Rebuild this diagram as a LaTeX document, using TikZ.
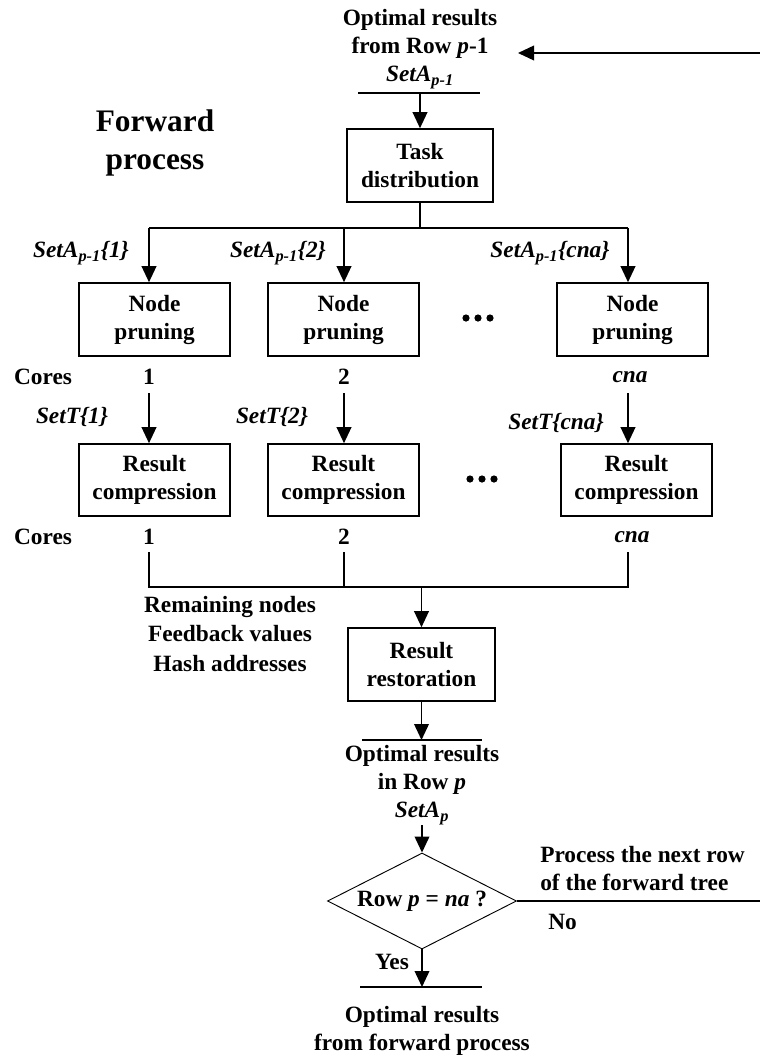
\documentclass[tikz,border=0pt]{standalone}
\usepackage{fontspec}
\setmainfont{Liberation Serif}
\usetikzlibrary{arrows.meta,shapes.geometric}
\tikzset{
  txt/.style={font=\fontsize{17.5}{21}\selectfont\bfseries, inner sep=0pt, align=center},
  bigtxt/.style={font=\fontsize{23.5}{28}\selectfont\bfseries, inner sep=0pt, align=center},
  procbox/.style={draw, line width=1.2pt, txt, minimum width=113.25pt, minimum height=54.75pt},
  arr/.style={-{Triangle[length=12pt,width=11pt]}, line width=1.2pt},
  ln/.style={line width=1.2pt},
  decision/.style={diamond, draw, line width=0.7pt, txt, aspect=2, minimum width=141.75pt, minimum height=72pt},
}
\begin{document}
\begin{tikzpicture}[x=0.75pt,y=-0.75pt]
\useasboundingbox (0,0) rectangle (760,1057);

% top input
\node[txt] (top) at (420,49) {Optimal results\\from Row \textit{p}-1\\\textit{SetA\textsubscript{p-1}}};
\coordinate (tbL) at (358,93);
\coordinate (tbR) at (480,93);
\coordinate (tbM) at (420,93);
\draw[ln] (tbL) -- (tbR);

\node[bigtxt] (fwd) at (155,143) {Forward\\process};

% feedback arrow from the right
\coordinate (rin) at (760,53);
\coordinate (rtip) at (518,53);
\draw[arr] (rin) -- (rtip);

% task distribution
\node[procbox, minimum width=109.5pt] (task) at (420,165.5) {Task\\distribution};
\draw[arr] (tbM) -- (task.north);

% branch line
\coordinate (b0) at (420,228);
\coordinate (bL) at (149,228);
\coordinate (bM) at (344,228);
\coordinate (bR) at (628,228);
\draw[ln] (task.south) -- (b0);
\draw[ln] (bL) -- (bR);

% node pruning
\node[procbox] (np1) at (154.5,319.5) {Node\\pruning};
\node[procbox] (np2) at (343.5,319.5) {Node\\pruning};
\node[procbox] (np3) at (632.5,319.5) {Node\\pruning};
\draw[arr] (bL) -- (bL |- np1.north);
\draw[arr] (bM) -- (bM |- np2.north);
\draw[arr] (bR) -- (bR |- np3.north);
\node[txt] (sa1) at (81,253) {\textit{SetA\textsubscript{p-1}\{1\}}};
\node[txt] (sa2) at (278,253) {\textit{SetA\textsubscript{p-1}\{2\}}};
\node[txt] (sa3) at (550,253) {\textit{SetA\textsubscript{p-1}\{cna\}}};

% dots row 1
\fill (466,318) circle[radius=2.7pt];
\fill (478,318) circle[radius=2.7pt];
\fill (490,318) circle[radius=2.7pt];

% cores row 1
\node[txt] (cores1) at (43,377) {Cores};
\node[txt] (c11) at (149,377) {1};
\node[txt] (c12) at (344,377) {2};
\node[txt] (c13) at (630,377) {\textit{cna}};

% result compression
\node[procbox, minimum height=54pt] (rc1) at (154.5,480) {Result\\compression};
\node[procbox, minimum height=54pt] (rc2) at (343.5,480) {Result\\compression};
\node[procbox, minimum height=54pt] (rc3) at (636.5,480) {Result\\compression};
\coordinate (a1) at (149,393);
\coordinate (a2) at (344,393);
\coordinate (a3) at (628,393);
\draw[arr] (a1) -- (a1 |- rc1.north);
\draw[arr] (a2) -- (a2 |- rc2.north);
\draw[arr] (a3) -- (a3 |- rc3.north);
\node[txt] (st1) at (72,417) {\textit{SetT\{1\}}};
\node[txt] (st2) at (272,417) {\textit{SetT\{2\}}};
\node[txt] (st3) at (556,423) {\textit{SetT\{cna\}}};

% dots row 2
\fill (470,479) circle[radius=2.7pt];
\fill (482,479) circle[radius=2.7pt];
\fill (494,479) circle[radius=2.7pt];

% cores row 2
\node[txt] (cores2) at (43,537) {Cores};
\node[txt] (c21) at (149,537) {1};
\node[txt] (c22) at (344,537) {2};
\node[txt] (c23) at (632,537) {\textit{cna}};

% merge lines
\coordinate (m1t) at (149,552);
\coordinate (m2t) at (344,552);
\coordinate (m3t) at (628,552);
\coordinate (m1b) at (149,587);
\coordinate (m2b) at (344,587);
\coordinate (m3b) at (628,587);
\coordinate (mc) at (421.5,587);
\draw[ln] (m1t) -- (m1b) -- (m3b) -- (m3t);
\draw[ln] (m2t) -- (m2b);

% result restoration
\node[procbox, minimum width=110.25pt] (rr) at (421.5,664.5) {Result\\restoration};
\draw[arr] (mc) -- (rr.north);
\node[txt] (rem) at (230,634) {Remaining nodes\\[1pt]Feedback values\\[1pt]Hash addresses};

\coordinate (bbL) at (362,740);
\coordinate (bbR) at (482,740);
\coordinate (bbM) at (421.5,740);
\draw[ln] (bbL) -- (bbR);
\draw[arr] (rr.south) -- (bbM);

\node[txt] (mid) at (422,785) {Optimal results\\in Row \textit{p}\\\textit{SetA\textsubscript{p}}};

% decision
\node[decision] (dec) at (422,901) {Row \textit{p} = \textit{na} ?};
\coordinate (d0) at (422,825);
\draw[arr] (d0) -- (dec.north);
\coordinate (rout) at (760,901);
\draw[ln] (dec.east) -- (rout);
\node[txt, anchor=west, align=left] (next) at (540,869) {Process the next row\\of the forward tree};
\node[txt, anchor=west] (no) at (548,922) {No};
\node[txt] (yes) at (392,962) {Yes};

\coordinate (fbL) at (360,987);
\coordinate (fbR) at (482,987);
\coordinate (fbM) at (422,987);
\draw[ln] (fbL) -- (fbR);
\draw[arr] (dec.south) -- (fbM);

\node[txt] (fin) at (422,1031) {Optimal results\\from forward process};
\end{tikzpicture}
\end{document}
